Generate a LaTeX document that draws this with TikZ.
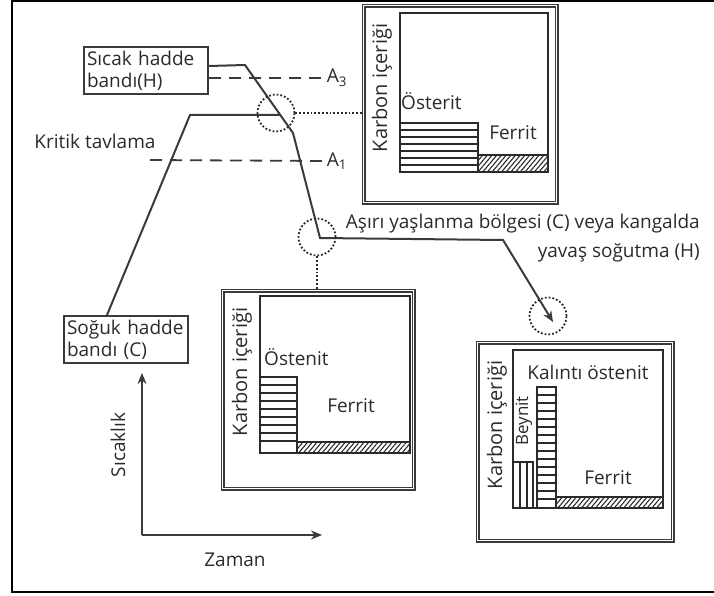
\documentclass[tikz,border=0pt]{standalone}
\usepackage{fontspec}
\setmainfont{Open Sans}
\usetikzlibrary{positioning,patterns,patterns.meta,arrows.meta}
\definecolor{ink}{HTML}{2A2A2A}
\definecolor{inkdim}{HTML}{3A3A3A}

\begin{document}
\begin{tikzpicture}[x=1pt,y=1pt,font=\fontsize{19}{22}\selectfont,text=ink,
    band/.style={draw=inkdim,line width=2pt,text width=118pt,minimum height=47pt,inner sep=3pt,align=left,anchor=north west},
    panel/.style={draw=inkdim,line width=1.4pt,double,double distance=1.4pt,anchor=north west,inner sep=0pt},
    route/.style={draw=inkdim,line width=2pt},
    lim/.style={draw=inkdim,line width=1.8pt,dash pattern=on 12pt off 8pt},
    spot/.style={draw=ink,line width=1.8pt,dotted,circle,minimum size=37pt,inner sep=0pt},
    lead/.style={draw=ink,line width=1.8pt,dotted},
    phase/.style={draw=ink,line width=2pt},
    stripe/.style={draw=ink,line width=1.1pt},
    ferr/.style={draw=ink,line width=1.8pt,pattern={Lines[angle=50,distance=3.6pt,line width=1.1pt]},pattern color=ink}]
  \useasboundingbox (0,0) rectangle (714,-596);
  \draw[line width=2pt] (716,-1) -- (12,-1) -- (12,-592) -- (716,-592);

  % routes in the T-t diagram
  \node[band] (hot) at (83,-46) {Sıcak hadde\\bandı(H)};
  \node[band] (cold) at (63,-315) {Soğuk hadde\\bandı (C)};
  \coordinate (h1) at (245,-65); \coordinate (h2) at (293,-133);
  \coordinate (h3) at (320,-238); \coordinate (h4) at (503,-240);
  \coordinate (tip) at (553,-322);
  \coordinate (c1) at (190,-115); \coordinate (c2) at (280,-115);
  \draw[route,-{Stealth[length=11pt,width=9pt]}] ([yshift=4.5pt]hot.east) -- (h1) -- (h2) -- (h3) -- (h4) -- (tip);
  \draw[route] (cold.north west) ++(44,0) -- (c1) -- (c2);
  \node (a3) at (337,-78) {A\textsubscript{3}};
  \node (a1) at (337,-161) {A\textsubscript{1}};
  \coordinate (a1s) at (150,-160);
  \draw[lim] ([yshift=-7.5pt]hot.east) -- (a3.west);
  \draw[lim] (a1s) -- (a1.west);
  \node (kt) at (95,-141) {Kritik tavlama};
  \node[anchor=north east,align=right,inner sep=2pt] (yas) at (702,-212) {Aşırı yaşlanma bölgesi (C) veya kangalda\\[7pt]yavaş soğutma (H)};

  % spots and leaders
  \node[spot] (s1) at (276,-113) {};
  \node[spot] (s2) at (317,-237) {};
  \node[spot] (s3) at (548,-316) {};

  % axes
  \coordinate (o) at (142,-535); \coordinate (yt) at (142,-373); \coordinate (xt) at (322,-535);
  \draw[route,-{Stealth[length=11pt,width=9pt]}] (o) -- (yt);
  \draw[route,-{Stealth[length=11pt,width=9pt]}] (o) -- (xt);
  \node[rotate=90] (sic) at (118,-445) {Sıcaklık};
  \node (zam) at (235,-560) {Zaman};

  % top panel
  \node[panel,minimum width=193pt,minimum height=197pt] (topbox) at (363,-5) {};
  \draw[lead] (s1.east) -- (s1.east -| topbox.west);
  \draw[phase] (400,-13) rectangle (548,-172);
  \foreach \y in {130,137,...,165} \draw[stripe] (400,-\y) -- (478,-\y);
  \draw[phase] (400,-123) rectangle (478,-172);
  \draw[ferr] (478,-155) rectangle (548,-172);
  \node[anchor=west,inner sep=1pt] (ost1) at (400,-101) {Österit};
  \node (fer1) at (513,-133) {Ferrit};
  \node[rotate=90,font=\fontsize{20}{22}\selectfont] (kar1) at (382,-88) {Karbon içeriği};

  % middle panel
  \node[panel,minimum width=191pt,minimum height=198pt] (midbox) at (222,-290) {};
  \draw[lead] (s2.south) -- (s2.south |- midbox.north);
  \draw[phase] (260,-296) rectangle (410,-453);
  \foreach \y in {385,393,...,445} \draw[stripe] (260,-\y) -- (297,-\y);
  \draw[phase] (260,-377) rectangle (297,-453);
  \draw[ferr] (297,-442) rectangle (410,-453);
  \node[anchor=west,inner sep=1pt] (ost2) at (263,-357) {Östenit};
  \node (fer2) at (351,-406) {Ferrit};
  \node[rotate=90,font=\fontsize{20}{22}\selectfont] (kar2) at (242,-372) {Karbon içeriği};

  % bottom panel
  \node[panel,minimum width=195pt,minimum height=198pt] (botbox) at (477,-342) {};
  \draw[phase] (513,-350) rectangle (663,-508);
  \foreach \x in {520,527} \draw[stripe] (\x,-462) -- (\x,-508);
  \draw[phase] (513,-462) rectangle (533,-508);
  \foreach \y in {395,403,...,500} \draw[stripe] (537,-\y) -- (556,-\y);
  \draw[phase] (537,-387) rectangle (556,-508);
  \draw[ferr] (556,-497) rectangle (663,-508);
  \node (kal) at (588,-372) {Kalıntı östenit};
  \node[rotate=90,font=\fontsize{17}{20}\selectfont] (bey) at (524,-421) {Beynit};
  \node (fer3) at (608,-478) {Ferrit};
  \node[rotate=90,font=\fontsize{20}{22}\selectfont] (kar3) at (497,-425) {Karbon içeriği};
\end{tikzpicture}
\end{document}
